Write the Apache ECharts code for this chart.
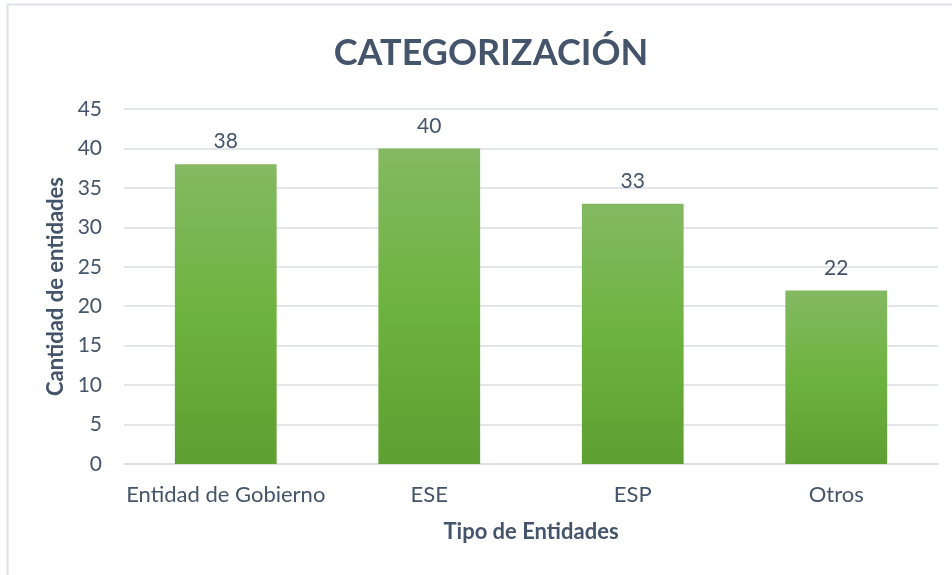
<!DOCTYPE html>
<html>
<head>
<meta charset="utf-8">
<script src="https://cdn.jsdelivr.net/npm/echarts@6/dist/echarts.min.js"></script>
<style>
  html, body { margin: 0; padding: 0; background: #fff; }
  #main { width: 952px; height: 575px; }
</style>
</head>
<body>
<div id="main"></div>
<script>
  var categories = ['Entidad de Gobierno', 'ESE', 'ESP', 'Otros'];
  var counts = [38, 40, 33, 22];
  var yTicks = { min: 0, max: 45, interval: 5 };

  var textColor = '#44546a';
  var fontFam = 'Lato, "Open Sans", sans-serif';

  var myChart = echarts.init(document.getElementById('main'), null, { renderer: 'canvas' });

  var option = {
    backgroundColor: '#fff',
    graphic: [
      {
        type: 'rect',
        shape: { x: 7.5, y: 4.5, width: 960, height: 600 },
        style: { fill: 'none', stroke: '#dde2ea', lineWidth: 2 },
        silent: true
      }
    ],
    title: {
      text: 'CATEGORIZACIÓN',
      left: 486,
      textAlign: 'center',
      top: 30,
      textStyle: {
        color: textColor,
        fontFamily: fontFam,
        fontWeight: 'bold',
        fontSize: 36
      }
    },
    grid: {
      left: 124,
      right: 14,
      top: 109,
      bottom: 111
    },
    xAxis: {
      type: 'category',
      data: categories,
      name: 'Tipo de Entidades',
      nameLocation: 'middle',
      nameGap: 57,
      nameTextStyle: {
        color: textColor,
        fontFamily: fontFam,
        fontWeight: 'bold',
        fontSize: 22
      },
      axisLine: { lineStyle: { color: '#d9dde3', width: 1.5 } },
      axisTick: { show: false },
      axisLabel: {
        interval: 0,
        color: textColor,
        fontFamily: fontFam,
        fontSize: 22,
        margin: 20
      }
    },
    yAxis: {
      type: 'value',
      min: yTicks.min,
      max: yTicks.max,
      interval: yTicks.interval,
      name: 'Cantidad de entidades',
      nameLocation: 'middle',
      nameGap: 53,
      nameTextStyle: {
        color: textColor,
        fontFamily: fontFam,
        fontWeight: 'bold',
        fontSize: 22
      },
      axisLine: { show: false },
      axisTick: { show: false },
      splitLine: { lineStyle: { color: '#d9dde3', width: 1.5 } },
      axisLabel: {
        color: textColor,
        fontFamily: fontFam,
        fontSize: 21,
        margin: 22
      }
    },
    series: [
      {
        type: 'bar',
        data: counts,
        barWidth: '50%',
        itemStyle: {
          color: new echarts.graphic.LinearGradient(0, 0, 0, 1, [
            { offset: 0, color: '#84b962' },
            { offset: 0.5, color: '#6db33f' },
            { offset: 1, color: '#5e9f31' }
          ])
        },
        label: {
          show: true,
          position: 'top',
          distance: 12,
          color: textColor,
          fontFamily: fontFam,
          fontSize: 21
        }
      }
    ],
    animation: false
  };

  myChart.setOption(option);
</script>
</body>
</html>
